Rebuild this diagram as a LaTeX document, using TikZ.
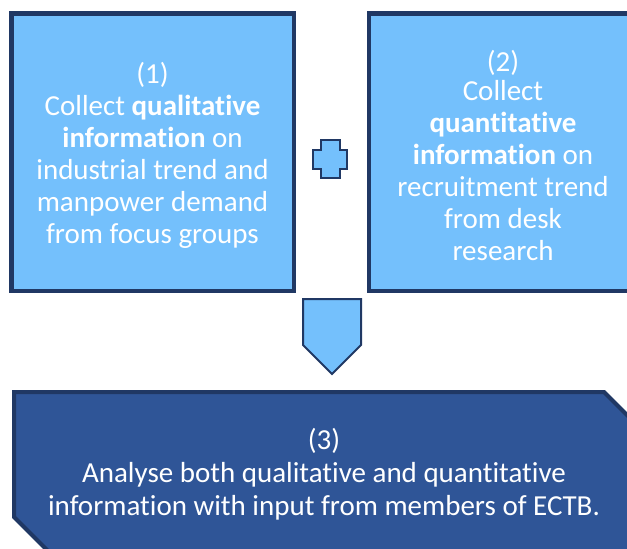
\documentclass[tikz,border=0pt]{standalone}
\usepackage{fontspec}
\setmainfont[Ligatures=CommonOff]{Carlito}
\usetikzlibrary{positioning,calc}
\definecolor{FlowNavy}{HTML}{203864}
\definecolor{FlowSky}{HTML}{74C0FC}
\definecolor{FlowDeep}{HTML}{2F5597}
\tikzset{
  collect/.style={draw=FlowNavy, fill=FlowSky, line width=4.5pt, inner sep=0pt},
  boxtext/.style={text=white, align=center, inner sep=0pt,
                  font=\fontsize{29}{32}\selectfont},
  joiner/.style={draw=FlowNavy, fill=FlowSky, line width=2pt, line join=miter},
  analyse/.style={draw=FlowNavy, fill=FlowDeep, line width=4pt},
}
\begin{document}
\begin{tikzpicture}[x=1pt,y=-1pt]
  \useasboundingbox (0,0) rectangle (627,549);
  % the two collection boxes
  \node[collect, minimum width=282.5pt, minimum height=277.5pt] (qual) at (152.5,152) {};
  \node[collect, minimum width=272pt, minimum height=277.5pt] (quant) at (505,152) {};
  \node[boxtext] (qualtext) at ([yshift=-3pt]qual.center)
    {(1)\\Collect \textbf{qualitative}\\\textbf{information} on\\industrial trend and\\manpower demand\\from focus groups};
  \node[boxtext] (quanttext) at ([xshift=-2pt,yshift=-3pt]quant.center)
    {(2)\\[-3pt]Collect\\\textbf{quantitative}\\\textbf{information} on\\recruitment trend\\from desk\\research};
  % plus sign between them
  \draw[joiner] (321,140) -- (340,140) -- (340,150) -- (347,150) -- (347,169) -- (340,169)
    -- (340,178) -- (321,178) -- (321,169) -- (313,169) -- (313,150) -- (321,150) -- cycle;
  % arrow down
  \draw[joiner] (303,299) -- (361,299) -- (361,345) -- (332,374) -- (303,345) -- cycle;
  % result box
  \draw[analyse] (14,392) -- (604,392) -- (640,428) -- (640,553) -- (50,553) -- (14,517) -- cycle;
  \node[boxtext, font=\fontsize{29}{33}\selectfont] (result) at (324,474)
    {(3)\\Analyse both qualitative and quantitative\\information with input from members of ECTB.};
\end{tikzpicture}
\end{document}
